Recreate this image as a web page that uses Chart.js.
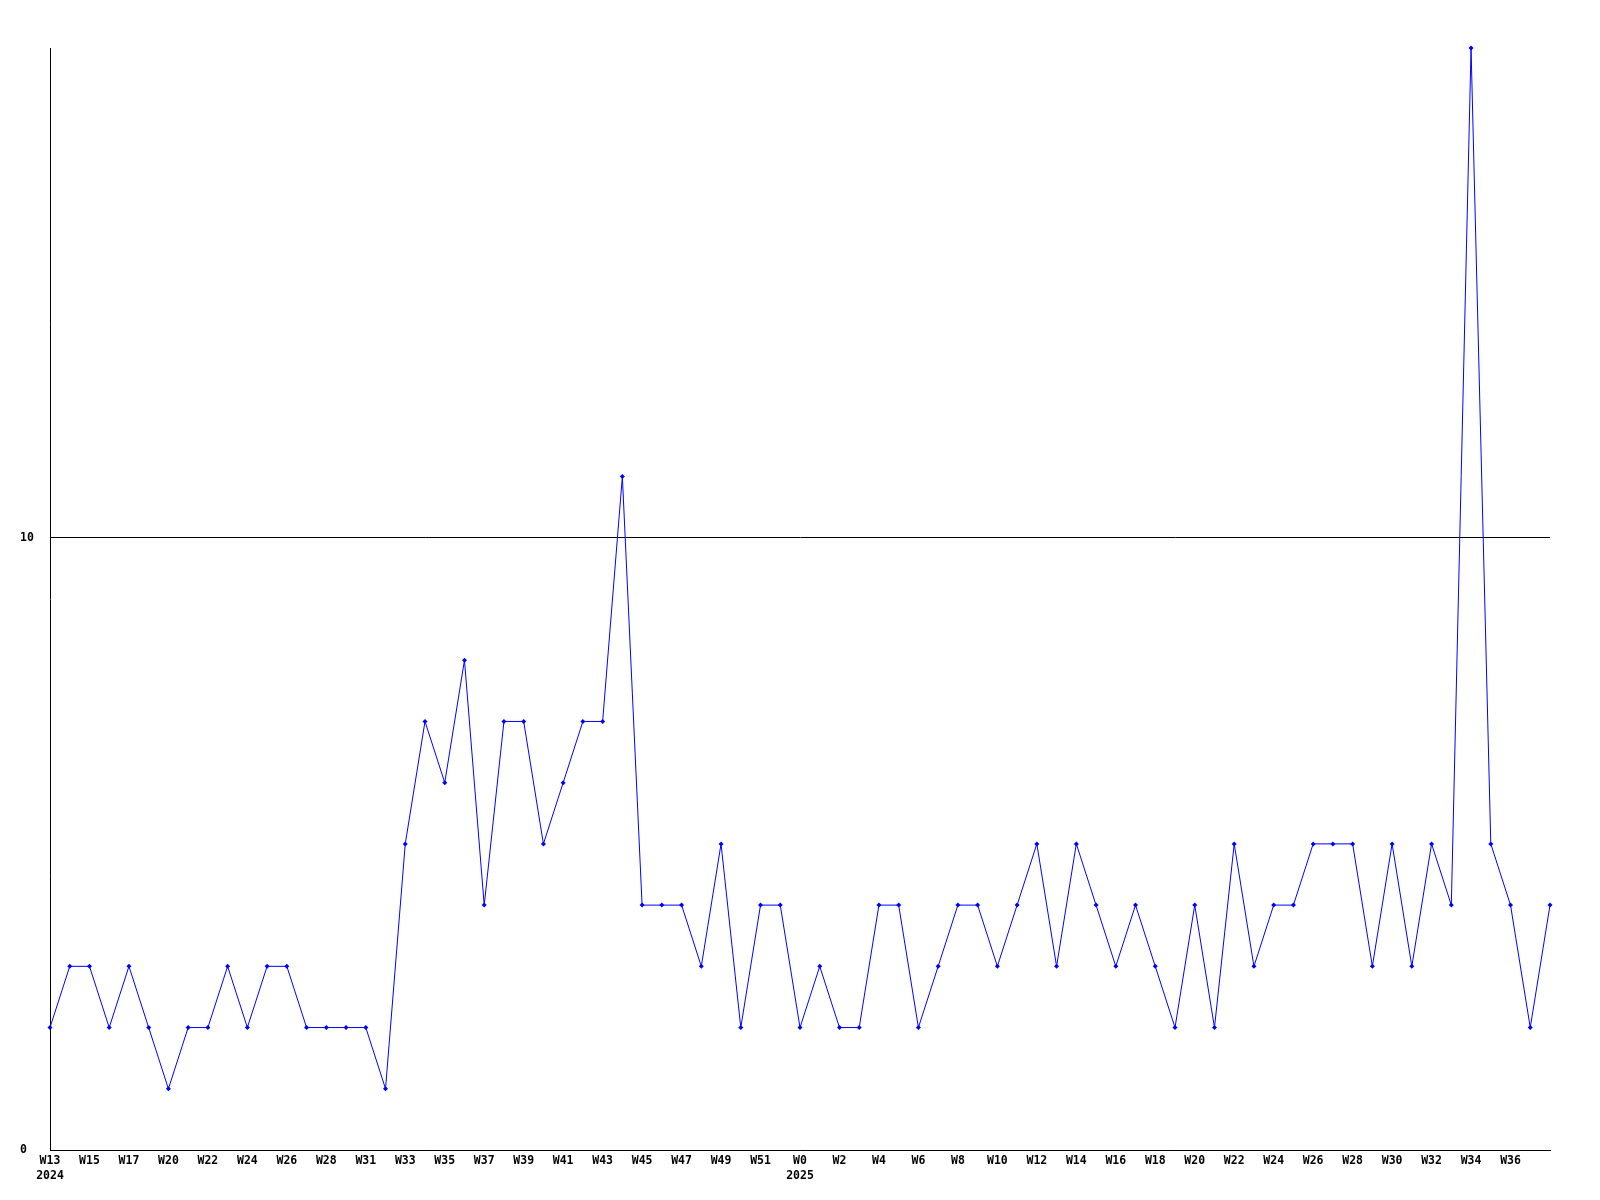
<!DOCTYPE html>
<html>
<head>
<meta charset="utf-8">
<script src="https://cdn.jsdelivr.net/npm/chart.js@4/dist/chart.umd.min.js"></script>
<style>
  html, body { margin: 0; padding: 0; background: #fff; }
  canvas { display: block; }
</style>
</head>
<body>
<canvas id="chart" width="1600" height="1200"></canvas>
<script>
// weekly counts, 2024 W13 .. 2025 W38
const weeks = [
  'W13', 'W14', 'W15', 'W16', 'W17', 'W18', 'W20', 'W21', 'W22', 'W23',
  'W24', 'W25', 'W26', 'W27', 'W28', 'W29', 'W31', 'W32', 'W33', 'W34',
  'W35', 'W36', 'W37', 'W38', 'W39', 'W40', 'W41', 'W42', 'W43', 'W44',
  'W45', 'W46', 'W47', 'W48', 'W49', 'W50', 'W51', 'W52',
  'W0', 'W1', 'W2', 'W3', 'W4', 'W5', 'W6', 'W7', 'W8', 'W9',
  'W10', 'W11', 'W12', 'W13', 'W14', 'W15', 'W16', 'W17', 'W18', 'W19',
  'W20', 'W21', 'W22', 'W23', 'W24', 'W25', 'W26', 'W27', 'W28', 'W29',
  'W30', 'W31', 'W32', 'W33', 'W34', 'W35', 'W36', 'W37', 'W38'
];
const yearStarts = { 0: '2024', 38: '2025' };
const counts = [
  2, 3, 3, 2, 3, 2, 1, 2, 2, 3,
  2, 3, 3, 2, 2, 2, 2, 1, 5, 7,
  6, 8, 4, 7, 7, 5, 6, 7, 7, 11,
  4, 4, 4, 3, 5, 2, 4, 4, 2, 3,
  2, 2, 4, 4, 2, 3, 4, 4, 3, 4,
  5, 3, 5, 4, 3, 4, 3, 2, 4, 2,
  5, 3, 4, 4, 5, 5, 5, 3, 5, 3,
  5, 4, 18, 5, 4, 2, 4
];
const yTicks = [0, 10];

const labels = weeks.map((w, i) => yearStarts[i] ? [w, yearStarts[i]] : w);
const tickFont = { family: 'DejaVu Sans Mono', size: 11.5, weight: 'bold', lineHeight: 1.3 };

new Chart(document.getElementById('chart'), {
  type: 'line',
  data: {
    labels: labels,
    datasets: [{
      data: counts,
      borderColor: '#0000ff',
      backgroundColor: '#0000ff',
      borderWidth: 1,
      tension: 0,
      pointStyle: 'rectRot',
      pointRadius: 2.5,
      pointBorderWidth: 0,
      fill: false,
      clip: false
    }]
  },
  options: {
    responsive: false,
    animation: false,
    layout: { padding: { left: 20, right: 50, top: 48, bottom: 0 } },
    plugins: { legend: { display: false }, tooltip: { enabled: false } },
    scales: {
      x: {
        grid: { display: false, drawTicks: false },
        border: { display: true, color: '#000', width: 1 },
        ticks: {
          autoSkip: false,
          maxRotation: 0,
          padding: 4,
          color: '#000',
          font: tickFont,
          callback: function (value, index) {
            // every second week, last point unlabelled
            return index % 2 === 0 && index < weeks.length - 1 ? this.getLabelForValue(value) : '';
          }
        },
        afterFit: (scale) => { scale.height = 50; }
      },
      y: {
        min: 0,
        max: 18,
        grid: { color: '#000', lineWidth: 1, drawTicks: false },
        border: { display: true, color: '#000', width: 1 },
        ticks: {
          stepSize: 10,
          crossAlign: 'far',
          color: '#000',
          font: tickFont
        },
        afterBuildTicks: (scale) => {
          scale.ticks = yTicks.map(v => ({ value: v }));
        },
        afterFit: (scale) => { scale.width = 30; }
      }
    }
  }
});
</script>
</body>
</html>
